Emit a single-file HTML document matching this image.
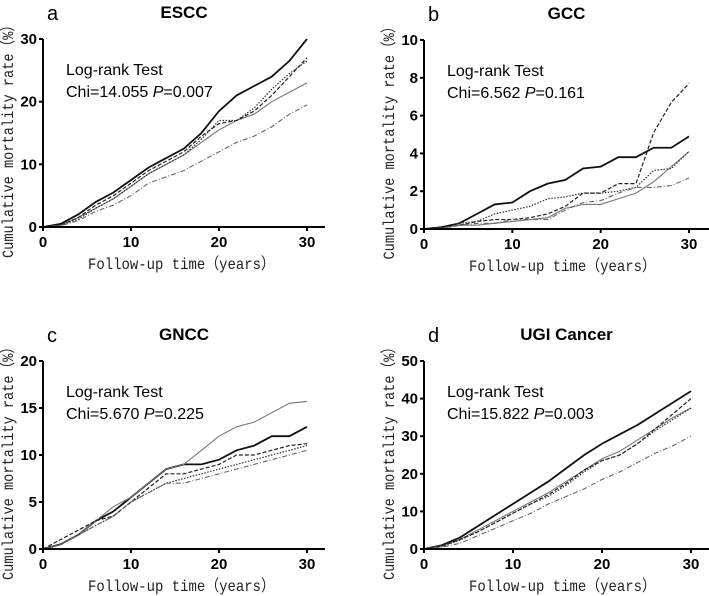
<!DOCTYPE html>
<html><head><meta charset="utf-8"><style>
body{margin:0;background:#fff;}
svg{display:block;font-family:"Liberation Sans",sans-serif;}
.tick{font-weight:bold;font-size:15px;}
.ttl{font-weight:bold;font-size:17px;}
.lab{font-size:20px;}
.ax{font-family:"Liberation Mono","Noto Sans CJK SC",monospace;font-size:16px;fill:#222;}
.lr{font-size:16px;}
</style></head><body>
<svg id="chart" width="709" height="596" viewBox="0 0 709 596"></svg>
<script>
const years=[0,2,4,6,8,10,12,14,16,18,20,22,24,26,28,30];
const escc1=[0,0.5,2,4,5.5,7.5,9.5,11,12.5,15,18.5,21,22.5,24,26.5,30];
const escc2=[0,0.3,1.5,3,4.5,6.5,8.5,10,11.5,13.5,15.5,17,18,20,21.5,23];
const escc3=[0,0.3,1.5,3.5,5,7,9,10.5,12,14.5,16.5,17,18.5,21,24,27];
const escc4=[0,0.3,1.2,3,4.5,6.5,8.5,10,11.5,14,17,17,19,22,24.5,26.5];
const escc5=[0,0.2,1,2.5,3.5,5,7,8,9,10.5,12,13.5,14.5,16,18,19.5];
const gcc1=[0,0.1,0.3,0.8,1.3,1.4,2,2.4,2.6,3.2,3.3,3.8,3.8,4.3,4.3,4.9];
const gcc2=[0,0.05,0.2,0.2,0.3,0.4,0.5,0.6,1.1,1.3,1.3,1.6,1.9,2.5,3.3,4.1];
const gcc3=[0,0.05,0.2,0.4,0.5,0.5,0.6,0.8,1.2,1.9,1.9,2.4,2.4,5.1,6.7,7.7];
const gcc4=[0,0.05,0.3,0.4,0.8,1.0,1.2,1.6,1.7,1.9,1.9,2.0,2.2,3.1,3.2,4.1];
const gcc5=[0,0.05,0.2,0.3,0.3,0.5,0.5,0.5,1.0,1.4,1.5,1.9,2.2,2.2,2.3,2.7];
const gncc1=[0,0.5,1.5,3,4,5.5,7,8.5,9,9,9.5,10.5,11,12,12,13];
const gncc2=[0,0.5,1.5,3,4.5,5.5,7,8.5,9,10.5,12,13,13.5,14.5,15.5,15.7];
const gncc3=[0,1,2,3,3.5,5,6.5,8,8,8.5,9,10,10,10.5,11,11.2];
const gncc4=[0,0.5,1.5,2.5,3.5,5,6,7,7.5,8,8.5,9,9.5,10,10.5,11];
const gncc5=[0,0.5,1.5,2.5,3.5,5,6,7,7,7.5,8,8.5,9,9.5,10,10.5];
const ugi1=[0,1,3,6,9,12,15,18,21.5,25,28,30.5,33,36,39,42];
const ugi2=[0,0.8,2.5,5,7.5,10,12.5,15,18,21,24,26,29,32,35,37.5];
const ugi3=[0,0.7,2.5,4.5,7,9.5,12,14.5,17.5,21,23.5,25,28,32,36,40];
const ugi4=[0,0.7,2.3,4.5,7,9.5,12,14,17,20.5,23.5,25,28,31.5,34.5,37.5];
const ugi5=[0,0.5,1.5,3.5,5.5,7.5,9.5,12,14,16,18.5,20.5,23,25.5,27.5,30];
const xTicks=[0,10,20,30];
const ticksA=[0,10,20,30], ticksB=[0,2,4,6,8,10], ticksC=[0,5,10,15,20], ticksD=[0,10,20,30,40,50];

const NS='http://www.w3.org/2000/svg';
const svg=document.getElementById('chart');
function el(t,a,p){const e=document.createElementNS(NS,t);for(const k in a)e.setAttribute(k,a[k]);(p||svg).appendChild(e);return e;}
const styles=[
 {stroke:'#111','stroke-width':1.8},
 {stroke:'#777','stroke-width':1.1},
 {stroke:'#222','stroke-width':1.2,'stroke-dasharray':'4,2'},
 {stroke:'#333','stroke-width':1.2,'stroke-dasharray':'1.5,1.5'},
 {stroke:'#666','stroke-width':1.1,'stroke-dasharray':'5,2,1,2'}];
const panels=[
 {id:'a',title:'ESCC',x0:43,y0:227,top:39,xr:307,xEnd:325,ymax:30,ticks:ticksA,series:[escc1,escc2,escc3,escc4,escc5],chi:'14.055',p:'0.007'},
 {id:'b',title:'GCC',x0:424,y0:229,top:40,xr:689,xEnd:709,ymax:10,ticks:ticksB,series:[gcc1,gcc2,gcc3,gcc4,gcc5],chi:'6.562',p:'0.161'},
 {id:'c',title:'GNCC',x0:43,y0:549,top:361,xr:307,xEnd:325,ymax:20,ticks:ticksC,series:[gncc1,gncc2,gncc3,gncc4,gncc5],chi:'5.670',p:'0.225'},
 {id:'d',title:'UGI Cancer',x0:424,y0:549,top:361,xr:691,xEnd:709,ymax:50,ticks:ticksD,series:[ugi1,ugi2,ugi3,ugi4,ugi5],chi:'15.822',p:'0.003'}];
panels.forEach(P=>{
 const g=el('g',{});
 
 
 const sx=v=>P.x0+v*(P.xr-P.x0)/30, sy=v=>P.y0-v*(P.y0-P.top)/P.ymax;
 const cx=(P.x0+P.xEnd)/2;
 let t=el('text',{x:P.x0+4,y:P.top-19,class:'lab'},g);t.textContent=P.id;
 
 t=el('text',{x:cx,y:P.top-21,class:'ttl','text-anchor':'middle'},g);t.textContent=P.title;
 
 P.series.forEach((s,i)=>{
  const pts=years.map((yr,j)=>sx(yr)+','+sy(s[j])).join(' ');
  const l=el('polyline',Object.assign({points:pts,fill:'none'},styles[i]),g);
  
  
 });
 const ax=el('path',{d:`M${P.x0},${P.top}V${P.y0}H${P.xEnd}`,stroke:'#000','stroke-width':2,fill:'none'},g);
 
 P.ticks.forEach(v=>{
  el('line',{x1:P.x0-4,x2:P.x0,y1:sy(v),y2:sy(v),stroke:'#000','stroke-width':2},g);
  const tt=el('text',{x:P.x0-6,y:sy(v)+5,class:'tick','text-anchor':'end'},g);tt.textContent=v;
  
 });
 xTicks.forEach(v=>{
  el('line',{x1:sx(v),x2:sx(v),y1:P.y0,y2:P.y0+4,stroke:'#000','stroke-width':2},g);
  const tt=el('text',{x:sx(v),y:P.y0+20,class:'tick','text-anchor':'middle'},g);tt.textContent=v;
  
 });
 t=el('text',{x:P.x0+45,y:P.y0+42,class:'ax',textLength:187,lengthAdjust:'spacingAndGlyphs'},g);t.textContent='Follow-up time（years）';
 
 const yx=P.x0-30, yy=(P.top+P.y0)/2+5;
 t=el('text',{x:yx,y:yy,class:'ax','text-anchor':'middle',textLength:240,lengthAdjust:'spacingAndGlyphs',transform:`rotate(-90 ${yx} ${yy})`},g);t.textContent='Cumulative mortality rate（%）';
 
 t=el('text',{x:P.x0+23,y:P.top+36,class:'lr'},g);t.textContent='Log-rank Test';
 
 t=el('text',{x:P.x0+23,y:P.top+58,class:'lr'},g);
 t.innerHTML='Chi='+P.chi+' <tspan font-style="italic">P</tspan>='+P.p;
 
});
</script>
</body></html>
